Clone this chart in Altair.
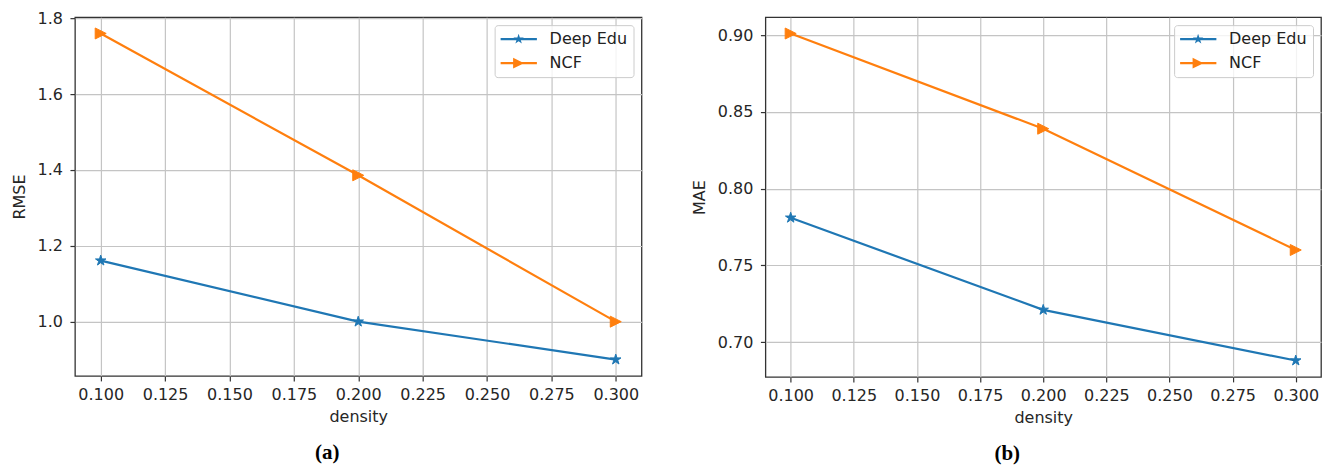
import altair as alt
import pandas as pd

# ---- data ----
density = [0.1, 0.2, 0.3]
series_names = ["Deep Edu", "NCF"]
rmse_deep_edu = [1.161, 1.0, 0.900]
rmse_ncf = [1.760, 1.386, 1.0]
mae_deep_edu = [0.781, 0.721, 0.688]
mae_ncf = [0.901, 0.839, 0.760]
x_ticks = [0.1, 0.125, 0.15, 0.175, 0.2, 0.225, 0.25, 0.275, 0.3]
rmse_ticks = [1.0, 1.2, 1.4, 1.6, 1.8]
mae_ticks = [0.70, 0.75, 0.80, 0.85, 0.90]

BLUE = "#1f77b4"
ORANGE = "#ff7f0e"
FONT = "DejaVu Sans"

STAR_PTS = [(0, -1), (0.2245, -0.309), (0.9511, -0.309), (0.3633, 0.118),
            (0.5878, 0.809), (0, 0.382), (-0.5878, 0.809), (-0.3633, 0.118),
            (-0.9511, -0.309), (-0.2245, -0.309)]
TRI_PTS = [(1, 0), (-1, 1), (-1, -1)]


def path(pts, dx=0.0):
    return "M" + "L".join(f"{x + dx:.4f},{y:.4f}" for x, y in pts) + "Z"


STAR = path(STAR_PTS)
TRI = path(TRI_PTS)

# legend glyph: line segment with marker (units of 5.5 px, symbol centred at 8 px)
U = 5.5
SHIFT = 10 / U
SEG = path([(-8 / U, -0.2), (28.3 / U, -0.2), (28.3 / U, 0.2), (-8 / U, 0.2)])
LEG_STAR = SEG + path(STAR_PTS, SHIFT)
LEG_TRI = SEG + path(TRI_PTS, SHIFT)


def frame(deep, ncf):
    rows = []
    for name, vals in zip(series_names, [deep, ncf]):
        for d, v in zip(density, vals):
            rows.append({"density": d, "value": v, "series": name})
    return pd.DataFrame(rows)


def padded(vals):
    lo, hi = min(vals), max(vals)
    m = 0.05 * (hi - lo)
    return [lo - m, hi + m]


def panel(df, ytitle, yticks, yfmt, w, h, caption, cap_dx):
    x = alt.X("density:Q",
              scale=alt.Scale(domain=padded(density), nice=False, zero=False),
              axis=alt.Axis(values=x_ticks, format=".3f", title="density"))
    y = alt.Y("value:Q",
              scale=alt.Scale(domain=padded(list(df["value"])), nice=False, zero=False),
              axis=alt.Axis(values=yticks, format=yfmt, title=ytitle))
    is_ncf = "datum.series == 'NCF'"
    col = alt.condition(is_ncf, alt.value(ORANGE), alt.value(BLUE))
    line = alt.Chart(df).mark_line(strokeWidth=2.2).encode(
        x=x, y=y, detail="series:N", color=col)
    pts = alt.Chart(df).mark_point(filled=True, size=121, strokeWidth=1, opacity=1).encode(
        x=x, y=y, fill=col, stroke=col,
        shape=alt.condition(is_ncf, alt.value(TRI), alt.value(STAR)))
    leg_props = dict(title=None, orient="top-right", offset=8, padding=6,
                     rowPadding=8, symbolSize=121,
                     labelOffset=33, labelFont=FONT, labelFontSize=16,
                     labelColor="#222222", strokeColor="#cccccc",
                     fillColor="rgba(255,255,255,0.8)", cornerRadius=3,
                     symbolStrokeWidth=0, labelLimit=0)
    leg = alt.Chart(df).mark_point(filled=True, opacity=1).encode(
        color=alt.Color("series:N",
                        scale=alt.Scale(domain=series_names, range=[BLUE, ORANGE]),
                        legend=alt.Legend(**leg_props)),
        shape=alt.Shape("series:N",
                        scale=alt.Scale(domain=series_names, range=[LEG_STAR, LEG_TRI]),
                        legend=alt.Legend(**leg_props)),
    ).transform_filter("false")
    return alt.layer(line, pts, leg).properties(
        width=w, height=h,
        title=alt.TitleParams(caption, orient="bottom", anchor="middle",
                              font="Liberation Serif", fontSize=21,
                              fontWeight="bold", color="black", offset=17,
                              dx=cap_dx))


left = panel(frame(rmse_deep_edu, rmse_ncf), "RMSE", rmse_ticks, ".1f",
             567, 359, "(a)", -31)
right = panel(frame(mae_deep_edu, mae_ncf), "MAE", mae_ticks, ".2f",
              556, 360, "(b)", -36)

chart = alt.hconcat(left, right, spacing=48).resolve_scale(
    color="independent", shape="independent"
).resolve_legend(
    color="independent", shape="independent"
).configure_view(
    stroke="#333333", strokeWidth=1.3
).configure_axis(
    labelFont=FONT, labelFontSize=16, labelColor="#262626",
    titleFont=FONT, titleFontSize=16, titleFontWeight="normal",
    titleColor="#262626", tickColor="#333333", tickSize=5, tickWidth=1.2,
    domain=False, gridColor="#c4c4c4", gridWidth=1.2,
    labelFlush=False, labelOverlap=False
).configure_axisX(
    labelPadding=6, titlePadding=6
).configure_axisY(
    labelPadding=7.5, titlePadding=10
).properties(
    padding={"left": 10, "top": 9, "right": 2, "bottom": 0}
)

chart.save("out.html", embed_options={"renderer": "svg", "actions": False})
